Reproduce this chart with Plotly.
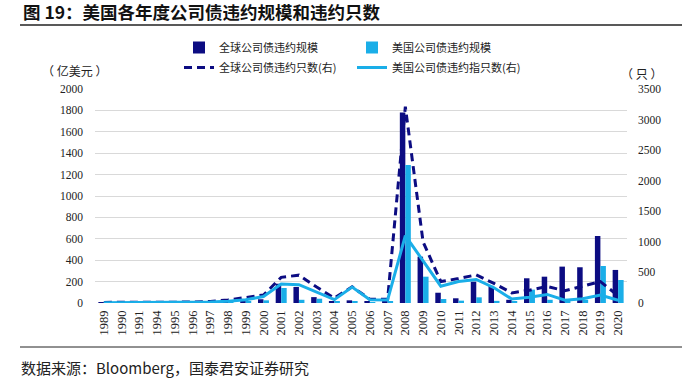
import plotly.graph_objects as go

years = ["1989", "1990", "1991", "1994", "1995", "1996", "1997", "1998", "1999", "2000",
         "2001", "2002", "2003", "2004", "2005", "2006", "2007", "2008", "2009", "2010",
         "2011", "2012", "2013", "2014", "2015", "2016", "2017", "2018", "2019", "2020"]

global_amount = [2, 3, 4, 5, 6, 4, 6, 15, 20, 35,
                 180, 150, 55, 15, 25, 10, 15, 1780, 433, 96,
                 44, 199, 160, 30, 231, 246, 340, 334, 626, 309]
us_amount = [1, 2, 3, 4, 5, 3, 4, 10, 15, 25,
             140, 30, 40, 10, 15, 5, 10, 1290, 246, 37,
             22, 53, 20, 10, 125, 30, 10, 30, 346, 215]
global_count = [10, 10, 15, 20, 20, 15, 25, 50, 90, 130,
                420, 455, 260, 80, 265, 60, 60, 3210, 1000, 350,
                400, 460, 320, 165, 210, 270, 200, 275, 350, 120]
us_count = [5, 5, 10, 15, 15, 10, 15, 30, 55, 105,
            310, 300, 180, 55, 260, 55, 50, 1100, 690, 275,
            350, 385, 250, 65, 95, 140, 45, 70, 130, 45]

left_ticks = list(range(0, 2001, 200))
right_ticks = list(range(0, 3501, 500))

NAVY = "#0C0C82"
CYAN = "#1AAEE8"
CJK = "Noto Sans CJK SC"
SERIF = "Liberation Serif"

W, H = 700, 385
PL, PR, PT, PB = 95, 627, 89, 303  # plot area in screen pixels
PW, PH = PR - PL, PB - PT


def px(sx):
    return (sx - PL) / PW


def py(sy):
    return (PB - sy) / PH


def cx(sx):
    return sx / W


def cy(sy):
    return 1 - sy / H


fig = go.Figure()
fig.add_trace(go.Bar(x=years, y=global_amount, name="全球公司债违约规模",
                     marker=dict(color=NAVY, line=dict(width=0)), legend="legend"))
fig.add_trace(go.Bar(x=years, y=us_amount, name="美国公司债违约规模",
                     marker=dict(color=CYAN, line=dict(width=0)), legend="legend"))
fig.add_trace(go.Scatter(x=years, y=global_count, name="全球公司债违约只数(右)", yaxis="y2",
                         mode="lines", line=dict(color=NAVY, width=3, dash="8px,5px"),
                         legend="legend2"))
fig.add_trace(go.Scatter(x=years, y=us_count, name="美国公司债违约指只数(右)", yaxis="y2",
                         mode="lines", line=dict(color=CYAN, width=3),
                         legend="legend2"))

fig.update_layout(
    width=W, height=H,
    margin=dict(l=PL, r=W - PR, t=PT, b=H - PB, autoexpand=False),
    paper_bgcolor="white", plot_bgcolor="white",
    barmode="group", bargap=0.38, bargroupgap=0.0,
    font=dict(family=SERIF, size=11, color="#222222"),
    xaxis=dict(type="category", range=[-0.5, len(years) - 0.5], tickangle=-90,
               showgrid=False, showline=False, ticks="", zeroline=False,
               ticklabelstandoff=4,
               tickfont=dict(family=SERIF, size=12.5, color="#222222")),
    yaxis=dict(range=[0, 2000], tickvals=left_ticks, showgrid=True, gridcolor="#D9D9D9",
               gridwidth=1, zeroline=False, showline=False, ticks="", ticklabelstandoff=11,
               tickfont=dict(family=SERIF, size=11.5, color="#222222")),
    yaxis2=dict(range=[0, 3500], tickvals=right_ticks, overlaying="y", side="right",
                showgrid=False, zeroline=False, showline=False, ticks="", ticklabelstandoff=10,
                tickfont=dict(family=SERIF, size=11.5, color="#222222")),
    legend=dict(orientation="h", xref="container", yref="container",
                x=cx(179), y=cy(33), xanchor="left", yanchor="top",
                entrywidth=128, font=dict(family=CJK, size=11, color="#222222"),
                bgcolor="rgba(0,0,0,0)", tracegroupgap=0, itemsizing="constant"),
    legend2=dict(orientation="h", xref="container", yref="container",
                 x=cx(179), y=cy(53), xanchor="left", yanchor="top",
                 entrywidth=128, font=dict(family=CJK, size=11, color="#222222"),
                 bgcolor="rgba(0,0,0,0)", tracegroupgap=0),
    showlegend=True,
)

annotations = [
    dict(text="<b>图 19：美国各年度公司债违约规模和违约只数</b>", x=px(21), y=py(12),
         xanchor="left", yanchor="middle", showarrow=False,
         font=dict(family=CJK, size=17.5, color="#111111")),
    dict(text="（ 亿美元 ）", x=px(74), y=py(70), xanchor="center", yanchor="middle",
         showarrow=False, font=dict(family=CJK, size=12, color="#222222")),
    dict(text="（ 只 ）", x=px(641), y=py(73), xanchor="center", yanchor="middle",
         showarrow=False, font=dict(family=CJK, size=12, color="#222222")),
    dict(text="数据来源：Bloomberg，国泰君安证券研究", x=px(19), y=py(367),
         xanchor="left", yanchor="middle", showarrow=False,
         font=dict(family=CJK, size=15, color="#222222")),
]
for a in annotations:
    a.update(xref="paper", yref="paper")
fig.update_layout(annotations=annotations)

fig.add_shape(type="line", xref="paper", yref="paper", x0=px(20), x1=px(682),
              y0=py(25), y1=py(25), line=dict(color="#222222", width=1.5))
fig.add_shape(type="line", xref="paper", yref="paper", x0=px(20), x1=px(682),
              y0=py(347), y1=py(347), line=dict(color="#222222", width=1))

fig.write_html("out.html",
               config={"displayModeBar": False},
               post_script="document.body.style.margin='0';document.body.style.overflow='hidden';")
